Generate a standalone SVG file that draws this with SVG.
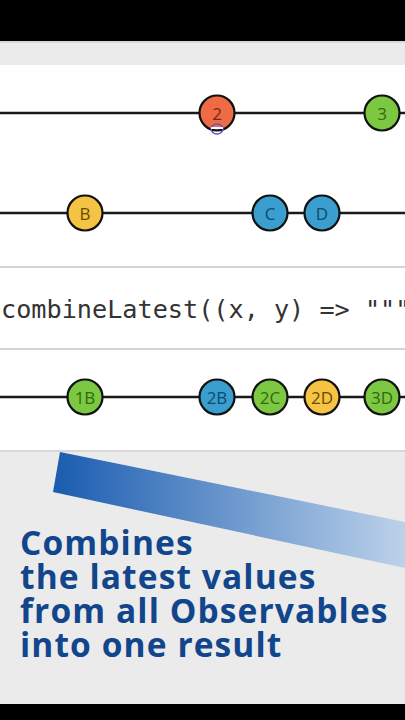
<svg xmlns="http://www.w3.org/2000/svg" width="405" height="720" viewBox="0 0 405 720">
<style>
.ln{stroke:#1a1a1a;stroke-width:2.5}
.m{stroke:#111;stroke-width:2.2}
.mt{font-family:"Open Sans","Liberation Sans",sans-serif;font-size:17px;text-anchor:middle;dominant-baseline:central}
.g{fill:#7cc842}.gt{fill:#2f6a10}
.o{fill:#ee6b45}.ot{fill:#7a2410}
.y{fill:#f5c445}.yt{fill:#6a4a00}
.b{fill:#3a9fcf}.bt{fill:#0d4a6e}
.cap{font-family:"Open Sans","Liberation Sans",sans-serif;font-weight:bold;font-size:33.5px;fill:#12468c;letter-spacing:1.1px}
</style>
<defs>
<linearGradient id="band" x1="0" y1="0" x2="1" y2="0">
<stop offset="0" stop-color="#1a5cb0"/>
<stop offset="1" stop-color="#bcd2ea"/>
</linearGradient>
</defs>
<rect width="405" height="720" fill="#ebebeb"/>
<rect width="405" height="41" fill="#000"/>
<rect y="41" width="405" height="2" fill="#d8d8d8"/>
<rect y="65" width="405" height="201" fill="#fff"/>
<rect y="266" width="405" height="2" fill="#d4d4d4"/>
<rect y="268" width="405" height="80" fill="#fff"/>
<rect y="348" width="405" height="2" fill="#d4d4d4"/>
<rect y="350" width="405" height="100" fill="#fff"/>
<rect y="450" width="405" height="2" fill="#d8d8d8"/>
<rect y="704" width="405" height="16" fill="#000"/>
<g id="connectors">
<line class="ln" x1="0" y1="113" x2="405" y2="113"/>
<line class="ln" x1="0" y1="213" x2="405" y2="213"/>
<line class="ln" x1="0" y1="397" x2="405" y2="397"/>
</g>
<g id="m2"><circle class="m o" cx="217" cy="113" r="17.5"/><text class="mt ot" x="217" y="113">2</text></g>
<g id="cursor"><ellipse cx="217" cy="129" rx="6" ry="5" fill="none" stroke="#5a52c8" stroke-width="1.5"/><line x1="211" y1="128" x2="223" y2="128" stroke="#fff" stroke-width="2"/></g>
<g id="m3"><circle class="m g" cx="382" cy="113" r="17.5"/><text class="mt gt" x="382" y="113">3</text></g>
<g id="mB"><circle class="m y" cx="85" cy="213" r="17.5"/><text class="mt yt" x="85" y="213">B</text></g>
<g id="mC"><circle class="m b" cx="270" cy="213" r="17.5"/><text class="mt bt" x="270" y="213">C</text></g>
<g id="mD"><circle class="m b" cx="322" cy="213" r="17.5"/><text class="mt bt" x="322" y="213">D</text></g>
<g id="code"><text x="1" y="318" font-family="'DejaVu Sans Mono','Liberation Mono',monospace" font-size="25.2" fill="#333">combineLatest((x, y) =&gt; """</text></g>
<g id="r1B"><circle class="m g" cx="85" cy="397" r="17.5"/><text class="mt gt" x="85" y="397">1B</text></g>
<g id="r2B"><circle class="m b" cx="217" cy="397" r="17.5"/><text class="mt bt" x="217" y="397">2B</text></g>
<g id="r2C"><circle class="m g" cx="270" cy="397" r="17.5"/><text class="mt gt" x="270" y="397">2C</text></g>
<g id="r2D"><circle class="m y" cx="322" cy="397" r="17.5"/><text class="mt yt" x="322" y="397">2D</text></g>
<g id="r3D"><circle class="m g" cx="382" cy="397" r="17.5"/><text class="mt gt" x="382" y="397">3D</text></g>
<polygon points="60,452 405,522 405,568 53,492" fill="url(#band)"/>
<g id="caption">
<text class="cap" x="20" y="555">Combines</text>
<text class="cap" x="20" y="589">the latest values</text>
<text class="cap" x="20" y="623">from all Observables</text>
<text class="cap" x="20" y="657">into one result</text>
</g>
</svg>
